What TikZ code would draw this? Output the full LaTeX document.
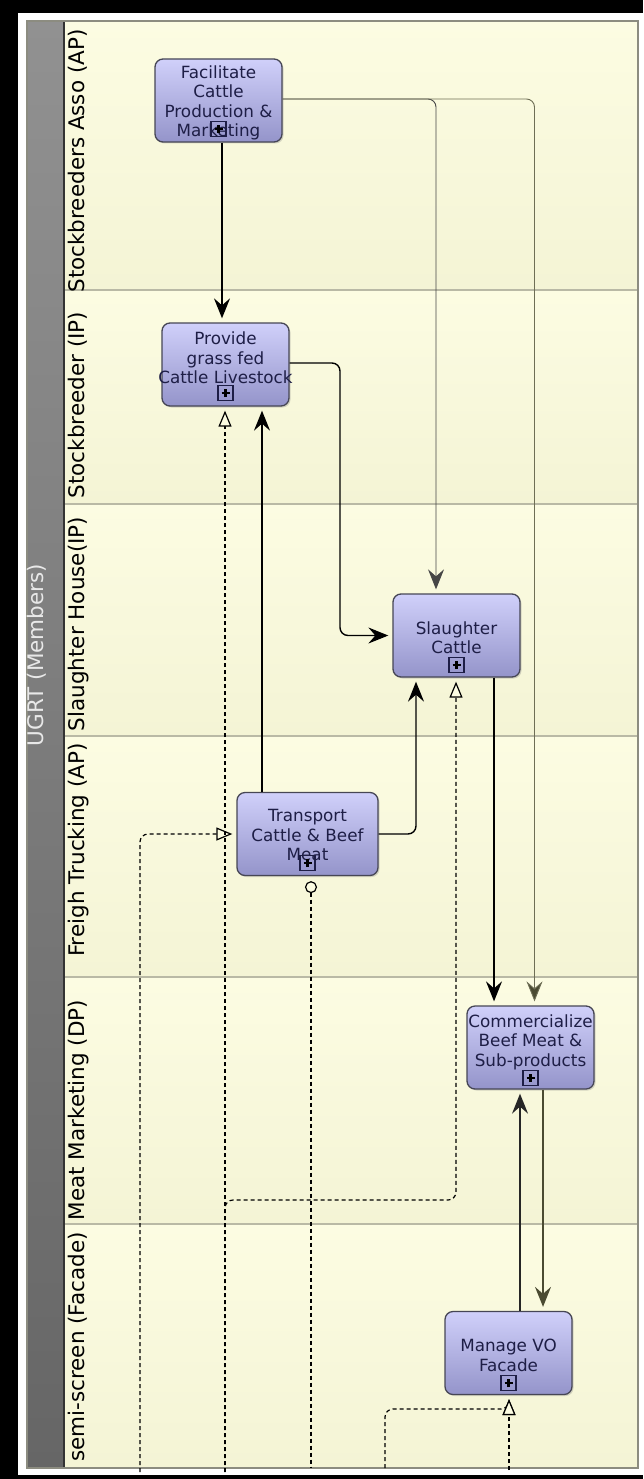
\documentclass[tikz,border=0pt]{standalone}
\usepackage{fontspec}
\setmainfont{DejaVu Sans}
\usetikzlibrary{arrows.meta,shadows,calc}
\definecolor{laneTop}{RGB}{252,252,226}
\definecolor{laneBot}{RGB}{244,244,213}
\definecolor{laneLine}{RGB}{185,185,165}
\definecolor{frameGray}{RGB}{140,140,128}
\definecolor{hdrTop}{RGB}{145,145,145}
\definecolor{hdrBot}{RGB}{102,102,102}
\definecolor{boxTop}{RGB}{208,208,250}
\definecolor{boxBot}{RGB}{148,148,202}
\definecolor{boxEdge}{RGB}{70,70,85}
\definecolor{taskInk}{RGB}{30,30,70}
\definecolor{oliveLine}{RGB}{110,110,85}
\definecolor{oliveDark}{RGB}{75,75,50}
\definecolor{grayLine}{RGB}{70,70,70}
\definecolor{poolInk}{RGB}{232,232,232}
\begin{document}
\begin{tikzpicture}[x=1pt,y=-1pt,
  task/.style={draw=boxEdge, line width=1.3pt, rounded corners=8pt,
    top color=boxTop, bottom color=boxBot, minimum width=127pt,
    minimum height=83pt, inner sep=0pt,
    drop shadow={shadow xshift=1.5pt,shadow yshift=-1.5pt,opacity=.3}},
  tasktext/.style={text=taskInk, align=center, inner sep=0pt,
    font=\fontsize{16.8}{19.5}\selectfont},
  marker/.style={draw=taskInk, line width=1.4pt, minimum size=15pt, inner sep=0pt,
    path picture={
      \draw[black,line width=2.2pt] ([xshift=-4pt]path picture bounding box.center) -- ([xshift=4pt]path picture bounding box.center);
      \draw[black,line width=2.2pt] ([yshift=-4pt]path picture bounding box.center) -- ([yshift=4pt]path picture bounding box.center);}},
  lanelabel/.style={rotate=90, anchor=base, inner sep=0pt,
    font=\fontsize{21.5}{24}\selectfont},
  seq/.style={line width=1.4pt, draw=black, rounded corners=8pt,
    -{Stealth[length=20pt,width=16pt,inset=7pt]}, shorten >=4pt},
  msg/.style={line width=1.2pt, draw=black, dash pattern=on 4pt off 3pt,
    rounded corners=8pt,
    -{Triangle[length=16pt,width=13pt,fill=laneTop,line width=1.2pt]}, shorten >=4pt}
]
\useasboundingbox (0,0) rectangle (643,1479);
% outer frame
\fill[black] (0,0) rectangle (643,1479);
\fill[white] (18,13) rectangle (643,1475);
% lanes
\shade[top color=laneTop,bottom color=laneBot] (64,21) rectangle (638,290);
\shade[top color=laneTop,bottom color=laneBot] (64,290) rectangle (638,504);
\shade[top color=laneTop,bottom color=laneBot] (64,504) rectangle (638,736);
\shade[top color=laneTop,bottom color=laneBot] (64,736) rectangle (638,977);
\shade[top color=laneTop,bottom color=laneBot] (64,977) rectangle (638,1224);
\shade[top color=laneTop,bottom color=laneBot] (64,1224) rectangle (638,1468);
\foreach \yy in {290,504,736,977,1224}{
  \draw[laneLine,line width=1.5pt] (64,\yy) -- (638,\yy);}
% pool header
\shade[top color=hdrTop,bottom color=hdrBot] (27,21) rectangle (64,1468);
\draw[black!80,line width=1.5pt] (64,21) -- (64,1468);
\draw[frameGray,line width=2pt] (27,21) rectangle (638,1468);
\node[lanelabel,text=poolInk] (pool) at (43,655) {UGRT (Members)};
% lane labels
\node[lanelabel] (l1) at (84,161) {Stockbreeders Asso (AP)};
\node[lanelabel] (l2) at (84,405) {Stockbreeder (IP)};
\node[lanelabel] (l3) at (84,624) {Slaughter House(IP)};
\node[lanelabel] (l4) at (84,850) {Freigh Trucking (AP)};
\node[lanelabel] (l5) at (84,1110) {Meat Marketing (DP)};
\node[lanelabel] (l6) at (84,1347) {semi-screen (Facade)};
% tasks
\node[task] (fac) at (218.5,100.5) {};
\node[tasktext] (facT) at (218.5,103) {Facilitate\\Cattle\\Production \&\\Marketing};
\node[marker] (facM) at (218.5,129) {};
\node[task] (prov) at (225.5,364.5) {};
\node[tasktext] (provT) at (225.5,358) {Provide\\grass fed\\Cattle Livestock};
\node[marker] (provM) at (225.5,393) {};
\node[task] (sl) at (456.5,635.5) {};
\node[tasktext] (slT) at (456.5,637.5) {Slaughter\\Cattle};
\node[marker] (slM) at (456.5,665) {};
\node[task,minimum width=141pt] (trans) at (307.5,834) {};
\node[tasktext] (transT) at (307.5,835) {Transport\\Cattle \& Beef\\Meat};
\node[marker] (transM) at (307.5,863) {};
\node[task] (com) at (530.5,1047.5) {};
\node[tasktext] (comT) at (530.5,1042) {Commercialize\\Beef Meat \&\\Sub-products};
\node[marker] (comM) at (530.5,1078) {};
\node[task] (man) at (508.5,1353) {};
\node[tasktext] (manT) at (508.5,1355.5) {Manage VO\\Facade};
\node[marker] (manM) at (508.5,1383) {};
% sequence flows
\draw[seq] ([xshift=3.5pt]fac.south) -- ([xshift=-3.5pt]prov.north);
\draw[seq,line width=0.9pt,draw=grayLine] ([yshift=1.5pt]fac.east) -| ([xshift=-20.5pt]sl.north);
\draw[seq,line width=0.9pt,draw=oliveLine,-{Stealth[length=20pt,width=16pt,inset=7pt,fill=oliveDark]}] ([yshift=1.5pt]fac.east) -| ([xshift=4pt]com.north);
\coordinate (dmid) at (340,500);
\draw[seq] ([yshift=1.5pt]prov.east) -| (dmid) |- (sl.west);
\draw[seq] ([xshift=-45.5pt]trans.north) -- ([xshift=36.5pt]prov.south);
\draw[seq] (trans.east) -| ([xshift=-40.5pt]sl.south);
\draw[seq] ([xshift=37.5pt]sl.south) -- ([xshift=-36.5pt]com.north);
\draw[seq,draw=oliveDark] ([xshift=12.5pt]com.south) -- ([xshift=34.5pt]man.north);
\draw[seq,draw=black!85] ([xshift=11.5pt]man.north) -- ([xshift=-10.5pt]com.south);
% message flows
\coordinate (jstart) at (140,1472);
\coordinate (kstart) at (225,1472);
\coordinate (lturn) at (456,1200);
\coordinate (mend) at (311,1472);
\coordinate (nstart) at (385,1468);
\coordinate (nturn) at (509,1409);
\coordinate (n2start) at (509,1470);
\draw[msg] (jstart) |- (trans.west);
\draw[msg] (kstart) -- ([xshift=-0.5pt]prov.south);
\draw[msg] (kstart) |- (lturn) -- ([xshift=-0.5pt]sl.south);
\draw[msg,{Circle[open,length=12pt,width=12pt,fill=laneTop,line width=1.2pt]}-] ([xshift=3.5pt,yshift=-5pt]trans.south) -- (mend);
\draw[msg] (nstart) |- (nturn) -- ([xshift=0.5pt]man.south);
\draw[msg] (n2start) -- ([xshift=0.5pt]man.south);
\end{tikzpicture}
\end{document}
